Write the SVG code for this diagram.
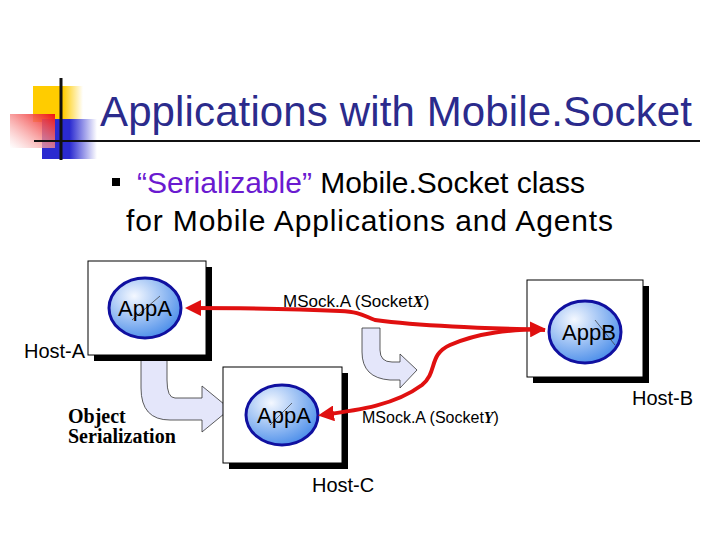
<svg xmlns="http://www.w3.org/2000/svg" width="720" height="540" viewBox="0 0 720 540">
<style>
.t{font-family:"Liberation Sans",Arial,sans-serif;fill:#000}
.box{fill:#fff;stroke:#000;stroke-width:1}
.sh{fill:#000}
.app{fill:url(#cg);stroke:#1010a0;stroke-width:3}
.red{fill:none;stroke:#e01010;stroke-width:4}
.fat{fill:#e4e6fa;stroke:#333;stroke-width:0.8}
</style>
<defs>
<radialGradient id="cg" cx="0.35" cy="0.3" r="0.8"><stop offset="0" stop-color="#f4f8ff"/><stop offset="1" stop-color="#3f86e8"/></radialGradient>
<linearGradient id="rg" x1="1" y1="0" x2="0" y2="1"><stop offset="0" stop-color="#ee1010"/><stop offset="1" stop-color="#fff" stop-opacity="0.6"/></linearGradient>
<linearGradient id="bg" x1="0" y1="0" x2="1" y2="0"><stop offset="0.5" stop-color="#2a2ad0"/><stop offset="1" stop-color="#fff"/></linearGradient>
<linearGradient id="yg" x1="0" y1="0" x2="1" y2="0"><stop offset="0.6" stop-color="#ffcc00"/><stop offset="1" stop-color="#fff"/></linearGradient>
<marker id="ah" markerWidth="4" markerHeight="4" refX="3" refY="2" orient="auto-start-reverse" markerUnits="strokeWidth"><path d="M0,0 L4,2 L0,4 z" fill="#e01010"/></marker>
</defs>
<g id="logo">
<rect x="33" y="86" width="50" height="36" fill="url(#yg)"/>
<rect x="42" y="119" width="55" height="40" fill="url(#bg)"/>
<rect x="10" y="114" width="45" height="34" fill="url(#rg)"/>
<line x1="61" y1="78" x2="61" y2="160" stroke="#111" stroke-width="3"/>
<line x1="34" y1="141" x2="700" y2="141" stroke="#111" stroke-width="2"/>
</g>
<text class="t" x="100" y="126" font-size="42" textLength="592" style="fill:#2b2b8c">Applications with Mobile.Socket</text>
<g id="bullet">
<rect x="112" y="178" width="8" height="8" fill="#000"/>
<text class="t" x="137" y="193" font-size="30" textLength="448"><tspan fill="#6a1ad0">“Serializable”</tspan> Mobile.Socket class</text>
<text class="t" x="126" y="231" font-size="30" textLength="487">for Mobile Applications and Agents</text>
</g>
<g id="fat-arrows">
<path class="fat" d="M141,352 L141,388 Q141,420 170,420 L202,420 L202,432 L230,409 L202,386 L202,398 L175,398 Q167,398 167,380 L167,352 Z"/>
<path class="fat" d="M362,328 L362,352 Q362,378 390,380 L400,380 L400,388 L417,370 L400,354 L400,362 L392,362 Q380,362 380,350 L380,328 Z"/>
</g>
<g id="host-a">
<rect class="sh" x="94" y="267" width="118" height="94"/>
<rect class="box" x="88" y="261" width="118" height="94"/>
<ellipse class="app" cx="145" cy="308" rx="36" ry="30"/>
<line x1="132" y1="320" x2="160" y2="296" stroke="#333" stroke-width="0.7"/>
<text class="t" x="145" y="316" font-size="22" text-anchor="middle">AppA</text>
<text class="t" x="24" y="358" font-size="20">Host-A</text>
</g>
<g id="host-c">
<rect class="sh" x="229" y="373" width="119" height="96"/>
<rect class="box" x="223" y="367" width="119" height="96"/>
<ellipse class="app" cx="282" cy="415" rx="36" ry="30"/>
<line x1="270" y1="425" x2="292" y2="403" stroke="#333" stroke-width="0.7"/>
<text class="t" x="284" y="423" font-size="22" text-anchor="middle">AppA</text>
<text class="t" x="312" y="492" font-size="20">Host-C</text>
</g>
<g id="host-b">
<rect class="sh" x="533" y="286" width="116" height="97"/>
<rect class="box" x="527" y="280" width="116" height="97"/>
<ellipse class="app" cx="585" cy="332" rx="36" ry="31"/>
<line x1="595" y1="320" x2="615" y2="345" stroke="#333" stroke-width="0.7"/>
<text class="t" x="589" y="340" font-size="22" text-anchor="middle">AppB</text>
<text class="t" x="632" y="405" font-size="20">Host-B</text>
</g>
<g id="connectors">
<path class="red" marker-end="url(#ah)" d="M545,330 C480,328 420,326 375,320 C362,315 360,312 340,311 C300,309 240,308 189,308"/>
<path class="red" marker-start="url(#ah)" marker-end="url(#ah)" d="M322,415 C360,410 395,405 422,385 C438,372 428,355 450,345 C480,332 510,330 542,329"/>
</g>
<text class="t" x="283" y="307" font-size="17">MSock.A (Socket<tspan font-family="Liberation Serif" font-style="italic" font-weight="bold">X</tspan>)</text>
<text class="t" x="362" y="423" font-size="16">MSock.A (Socket<tspan font-family="Liberation Serif" font-style="italic" font-weight="bold">Y</tspan>)</text>
<text x="68" y="423" font-size="20" font-weight="bold" font-family="Liberation Serif,serif">Object</text>
<text x="68" y="443" font-size="20" font-weight="bold" font-family="Liberation Serif,serif">Serialization</text>
</svg>
